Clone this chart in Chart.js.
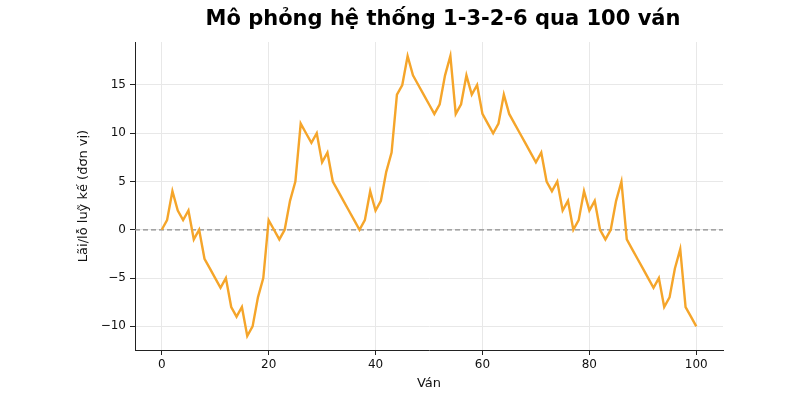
<!DOCTYPE html>
<html>
<head>
<meta charset="utf-8">
<script src="https://cdn.jsdelivr.net/npm/chart.js@4"></script>
<style>
  html, body { margin: 0; padding: 0; background: #fff; }
  #wrap { width: 800px; height: 400px; }
</style>
</head>
<body>
<div id="wrap"><canvas id="chart" width="800" height="400"></canvas></div>
<script>
const title = 'Mô phỏng hệ thống 1-3-2-6 qua 100 ván';
const xLabel = 'Ván';
const yLabel = 'Lãi/lỗ luỹ kế (đơn vị)';

const rounds = [
    0, 1, 2, 3, 4, 5, 6, 7, 8, 9, 10, 11, 12, 13, 14, 15, 16, 17, 18, 19, 20,
    21, 22, 23, 24, 25, 26, 27, 28, 29, 30, 31, 32, 33, 34, 35, 36, 37, 38, 39, 40,
    41, 42, 43, 44, 45, 46, 47, 48, 49, 50, 51, 52, 53, 54, 55, 56, 57, 58, 59, 60,
    61, 62, 63, 64, 65, 66, 67, 68, 69, 70, 71, 72, 73, 74, 75, 76, 77, 78, 79, 80,
    81, 82, 83, 84, 85, 86, 87, 88, 89, 90, 91, 92, 93, 94, 95, 96, 97, 98, 99, 100
];
const profit = [
    0, 1, 4, 2, 1, 2, -1, 0, -3, -4, -5, -6, -5, -8, -9, -8, -11, -10, -7, -5, 1,
    0, -1, 0, 3, 5, 11, 10, 9, 10, 7, 8, 5, 4, 3, 2, 1, 0, 1, 4, 2,
    3, 6, 8, 14, 15, 18, 16, 15, 14, 13, 12, 13, 16, 18, 12, 13, 16, 14, 15, 12,
    11, 10, 11, 14, 12, 11, 10, 9, 8, 7, 8, 5, 4, 5, 2, 3, 0, 1, 4, 2,
    3, 0, -1, 0, 3, 5, -1, -2, -3, -4, -5, -6, -5, -8, -7, -4, -2, -8, -9, -10
];
const xTicks = [0, 20, 40, 60, 80, 100];
const yTicks = [-10, -5, 0, 5, 10, 15];

const font = 'DejaVu Sans';

// matplotlib-style minus sign
function fmt(v) {
    return v < 0 ? '\u2212' + Math.abs(v) : String(v);
}

// dashed break-even line + title over the plot area
const extras = {
    id: 'extras',
    beforeDatasetsDraw(chart) {
        const {ctx, chartArea, scales} = chart;
        const y = scales.y.getPixelForValue(0);
        ctx.save();
        ctx.strokeStyle = '#8c8c8c';
        ctx.lineWidth = 1.3;
        ctx.setLineDash([5, 3]);
        ctx.beginPath();
        ctx.moveTo(chartArea.left, y);
        ctx.lineTo(chartArea.right, y);
        ctx.stroke();
        ctx.restore();
    },
    afterDraw(chart) {
        const ctx = chart.ctx;
        ctx.save();
        ctx.font = 'bold 21px "' + font + '"';
        ctx.fillStyle = '#000';
        ctx.textAlign = 'center';
        ctx.textBaseline = 'middle';
        ctx.fillText(title, 443, 20);
        ctx.restore();
    }
};

new Chart(document.getElementById('chart'), {
    type: 'line',
    data: {
        labels: rounds,
        datasets: [{
            data: profit,
            borderColor: '#f5a52a',
            borderWidth: 2.4,
            pointRadius: 0,
            tension: 0
        }]
    },
    options: {
        responsive: false,
        animation: false,
        layout: { padding: { top: 42, right: 77, bottom: 0, left: 0 } },
        plugins: {
            legend: { display: false },
            tooltip: { enabled: false }
        },
        scales: {
            x: {
                type: 'linear',
                min: -5,
                max: 105,
                afterBuildTicks: s => { s.ticks = xTicks.map(v => ({ value: v })); },
                afterFit: s => { s.height = 50; },
                grid: { color: '#e8e8e8', tickColor: '#222', tickLength: 5 },
                border: { color: '#222', width: 1 },
                ticks: { color: '#111', padding: 3, font: { family: font, size: 12 }, maxRotation: 0, callback: fmt },
                title: { display: true, text: xLabel, color: '#111', font: { family: font, size: 13 }, padding: { top: 0, bottom: 9 } }
            },
            y: {
                min: -12.45,
                max: 19.45,
                afterBuildTicks: s => { s.ticks = yTicks.map(v => ({ value: v })); },
                afterFit: s => { s.width = 135; },
                grid: { color: '#e8e8e8', tickColor: '#222', tickLength: 5 },
                border: { color: '#222', width: 1 },
                ticks: { color: '#111', padding: 4, font: { family: font, size: 12 }, callback: fmt },
                title: { display: true, text: yLabel, color: '#111', font: { family: font, size: 13 }, padding: { top: 76, bottom: 0 } }
            }
        }
    },
    plugins: [extras]
});
</script>
</body>
</html>
